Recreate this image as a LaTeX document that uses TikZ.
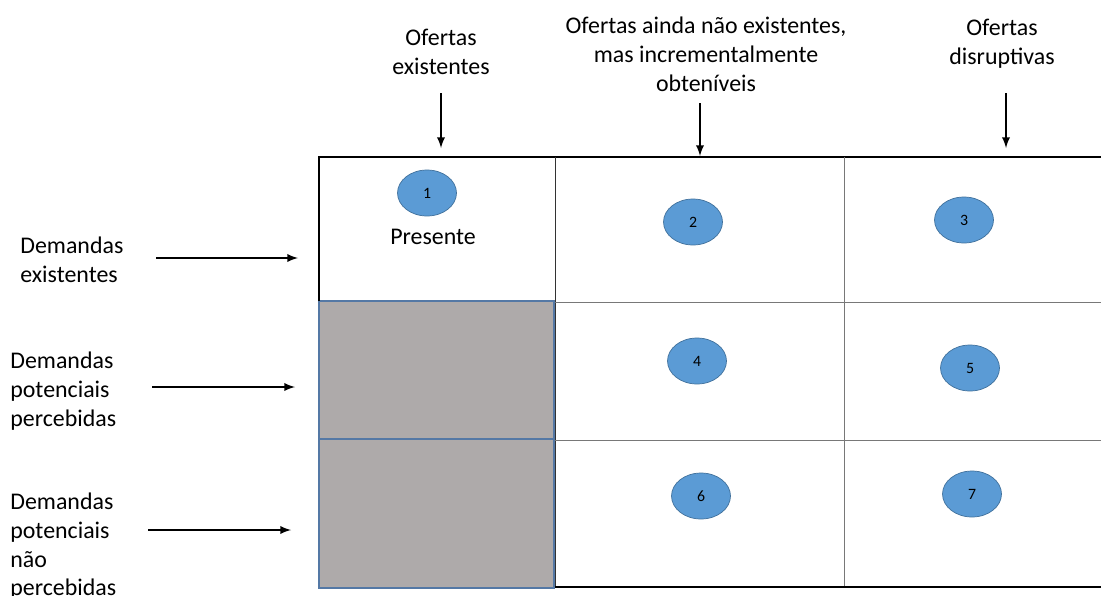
\documentclass[tikz,border=0pt]{standalone}
\usepackage{fontspec}
\setmainfont{Carlito}
\usetikzlibrary{shapes.geometric}
\usetikzlibrary{arrows}
\definecolor{cellgray}{RGB}{174,170,170}
\definecolor{celledge}{RGB}{84,120,165}
\definecolor{bubblefill}{RGB}{91,155,213}
\definecolor{bubbleedge}{RGB}{65,113,156}
\definecolor{gridgray}{RGB}{120,120,120}

\begin{document}
\begin{tikzpicture}[x=0.02cm, y=-0.02cm,
		lbl/.style={inner sep=0, font=\fontsize{13.6}{16.3}\selectfont},
		bubble/.style={ellipse, draw=bubbleedge, fill=bubblefill, minimum width=1.18cm, minimum height=0.92cm, inner sep=0, font=\fontsize{9}{10}\selectfont},
		arr/.style={-latex, line width=1.1pt}]
		\useasboundingbox (0,0) rectangle (1101,595);
		
		% gray cells
		\draw [fill=cellgray, draw=celledge, line width=0.6pt] (319,301) rectangle (554,439);
		\draw [fill=cellgray, draw=celledge, line width=0.6pt] (319,439) rectangle (554,588);
		
		% grid
		\draw [line width=0.7pt] (319,301) -- (319,157) -- (1101,157);
		\draw [line width=0.5pt, black!80] (555,157) -- (555,588);
		\draw [line width=0.5pt, gridgray] (844,157) -- (844,588);
		\draw [line width=0.5pt, gridgray] (555,302) -- (1101,302);
		\draw [line width=0.5pt, gridgray] (555,440) -- (1101,440);
		\draw [line width=0.7pt] (555,587) -- (1101,587);
		
		% bubbles
		\node [bubble] (c1) at (427,193) {1};
		\node [lbl] (presente) at (433,237) {Presente};
		\node [bubble] (c2) at (693,222) {2};
		\node [bubble] (c3) at (964,220) {3};
		\node [bubble] (c4) at (697,361) {4};
		\node [bubble] (c5) at (970,368) {5};
		\node [bubble] (c6) at (701,496) {6};
		\node [bubble] (c7) at (972,494) {7};
		
		% offers
		\node [lbl, align=center, anchor=north] (oferta1) at (441,29) {Ofertas\\existentes};
		\node [lbl, align=center, anchor=north] (oferta2) at (706,17) {Ofertas ainda não existentes,\\mas incrementalmente\\obteníveis};
		\node [lbl, align=center, anchor=north] (oferta3) at (1002,19) {Ofertas\\disruptivas};
		
		% demands
		\node [lbl, align=left, anchor=north west] (demanda1) at (20,237) {Demandas\\existentes};
		\node [lbl, align=left, anchor=north west] (demanda2) at (10,352) {Demandas\\potenciais\\percebidas};
		\node [lbl, align=left, anchor=north west] (demanda3) at (10,493) {Demandas\\potenciais\\não\\percebidas};
		
		% arrows
		\coordinate (o1a) at (441,93);  \coordinate (o1b) at (441,148);
		\coordinate (o2a) at (700,103); \coordinate (o2b) at (700,156);
		\coordinate (o3a) at (1006,93); \coordinate (o3b) at (1006,148);
		\coordinate (d1a) at (156,258); \coordinate (d1b) at (298,258);
		\coordinate (d2a) at (152,387); \coordinate (d2b) at (295,387);
		\coordinate (d3a) at (148,530); \coordinate (d3b) at (291,530);
		\draw [arr] (o1a) -- (o1b);
		\draw [arr] (o2a) -- (o2b);
		\draw [arr] (o3a) -- (o3b);
		\draw [arr] (d1a) -- (d1b);
		\draw [arr] (d2a) -- (d2b);
		\draw [arr] (d3a) -- (d3b);
	\end{tikzpicture}
\end{document}
